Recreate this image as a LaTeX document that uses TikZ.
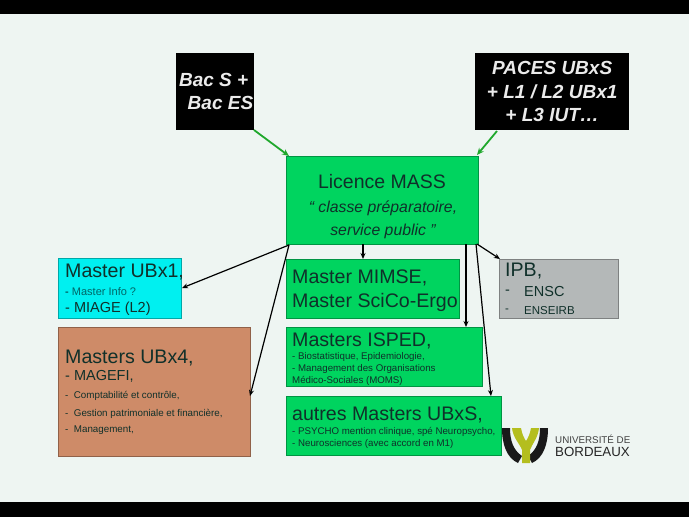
\documentclass[tikz,border=0pt]{standalone}
\usepackage{fontspec}
\setmainfont{Liberation Sans}
\usetikzlibrary{arrows.meta}
\definecolor{bg}{HTML}{EEF5F2}
\definecolor{grn}{HTML}{00D45F}
\definecolor{cyanb}{HTML}{00F0F0}
\definecolor{brownb}{HTML}{CE8B68}
\definecolor{grayb}{HTML}{B4B8B8}
\definecolor{arrowgreen}{HTML}{1FA82C}
\definecolor{logoy}{HTML}{B4BE1E}
\definecolor{txt}{HTML}{10302A}
\tikzset{
 x=1pt,y=-1pt,
 box/.style={draw=#1!70!black,line width=.7pt,inner sep=0,anchor=north west},
 blk/.style={fill=black,inner sep=0,anchor=north west,text=white!92!black,align=center,font=\fontsize{19}{23.5}\selectfont\itshape\bfseries},
 gbox/.style={box=grn,fill=grn},
 arr/.style={-{Stealth[length=6pt,width=5pt]},line width=1.2pt,black},
 garr/.style={-{Stealth[length=7pt,width=6pt]},line width=1.8pt,arrowgreen},
 lab/.style={anchor=north west,inner sep=0,align=left,text=txt},
 labw/.style={anchor=west,inner sep=0,text=txt},
}
\newcommand{\szA}{\fontsize{19.6}{21}\selectfont}
\newcommand{\szB}{\fontsize{9.8}{11.5}\selectfont}
\newcommand{\szC}{\fontsize{14.5}{15}\selectfont}
\begin{document}
\begin{tikzpicture}
\useasboundingbox (0,0) rectangle (689,517);
\fill[bg] (0,0) rectangle (689,517);
\fill[black] (0,0) rectangle (689,14);
\fill[black] (0,502) rectangle (689,517);
% boxes
\node[blk,minimum width=78pt,minimum height=77pt] (bac) at (176,53) {\hspace*{-3pt}Bac S +\\\ \ Bac ES};
\node[blk,minimum width=154pt,minimum height=77pt] (paces) at (475,53) {PACES UBxS\\+ L1 / L2 UBx1\\+ L3 IUT…};
\node[gbox,minimum width=192pt,minimum height=88pt,align=center] (lic) at (286,156) {};
\node[inner sep=0,text=txt,font=\fontsize{19.5}{20}\selectfont] (lict) at (382,182) {Licence MASS};
\node[inner sep=0,text=txt,font=\fontsize{15.8}{16}\selectfont\itshape] (lics1) at (383,208) {“ classe préparatoire,};
\node[inner sep=0,text=txt,font=\fontsize{15.8}{16}\selectfont\itshape] (lics2) at (383,231) {service public ”};
\node[box=cyanb,fill=cyanb,minimum width=123pt,minimum height=60pt] (ub1) at (58,258) {};
\node[box=brownb,fill=brownb,minimum width=192pt,minimum height=129pt] (ub4) at (58,327) {};
\node[gbox,minimum width=173pt,minimum height=59pt] (mimse) at (286,259) {};
\node[gbox,minimum width=196pt,minimum height=59pt] (isped) at (286,327) {};
\node[gbox,minimum width=215pt,minimum height=59pt] (autres) at (286,396) {};
\node[box=grayb,fill=grayb,minimum width=119pt,minimum height=59pt] (ipb) at (499,259) {};
% texts
\node[lab,font=\szA] (t1) at (65,264) {Master UBx1,};
\node[lab,font=\fontsize{11}{12}\selectfont,text=teal!80!black] (t1a) at (65,287) {\textbf{-}\ Master Info ?};
\node[lab,font=\szC] (t1b) at (65,301.5) {- MIAGE (L2)};
\node[lab,font=\szA] (t4) at (65,350) {Masters UBx4,};
\node[lab,font=\szC] (t4a) at (65,370) {- MAGEFI,};
\node[lab,font=\szB] (t4b) at (65,391) {-\ \ Comptabilité et contrôle,};
\node[lab,font=\szB] (t4c) at (65,409) {-\ \ Gestion patrimoniale et financière,};
\node[lab,font=\szB] (t4d) at (65,426) {-\ \ Management,};
\node[lab,font=\fontsize{19.6}{24}\selectfont] (tm) at (292,270) {Master MIMSE,\\Master SciCo-Ergo};
\node[lab,font=\szA] (ti) at (292,333) {Masters ISPED,};
\node[lab,font=\fontsize{9.7}{12}\selectfont] (ti2) at (292,352.5) {- Biostatistique, Epidemiologie,\\- Management des Organisations\\Médico-Sociales (MOMS)};
\node[lab,font=\szA] (ta) at (292,407) {autres Masters UBxS,};
\node[lab,font=\fontsize{9.7}{12}\selectfont] (ta2) at (292,427) {- PSYCHO mention clinique, spé Neuropsycho,\\- Neurosciences (avec accord en M1)};
\node[lab,font=\szA] (tp) at (505,263) {IPB,};
\node[labw,font=\szC] (tp1) at (505,292) {-};
\node[labw,font=\szC] (tp1b) at (524,292) {ENSC};
\node[labw,font=\fontsize{11.5}{12}\selectfont] (tp2) at (505,311) {-};
\node[labw,font=\fontsize{11.5}{12}\selectfont] (tp2b) at (524,311) {ENSEIRB};
% connectors
\coordinate (bacS) at (254,130); \coordinate (licA) at (289,156);
\coordinate (pacS) at (497,131); \coordinate (licB) at (477,155);
\draw[garr] (bacS) -- (licA);
\draw[garr] (pacS) -- (licB);
\coordinate (o1) at (289,245); \coordinate (e1) at (182,288);
\coordinate (e2) at (250,396);
\coordinate (o3) at (363,244); \coordinate (e3) at (363,259);
\coordinate (o4) at (466,244); \coordinate (e4) at (466,327);
\coordinate (o5) at (476,244); \coordinate (e5) at (491,396);
\coordinate (o6) at (477,244); \coordinate (e6) at (500,259);
\draw[arr] (o1) -- (e1);
\draw[arr] (o1) -- (e2);
\draw[arr] (o3) -- (e3);
\draw[arr] (o4) -- (e4);
\draw[arr] (o5) -- (e5);
\draw[arr] (o6) -- (e6);
% logo
\fill[black!90] (502,428) .. controls (502,445) and (507,458) .. (518,463) -- (522,456) .. controls (513,450) and (510,440) .. (510,428) -- cycle;
\fill[black!90] (548,428) .. controls (548,445) and (543,458) .. (532,463) -- (528,456) .. controls (537,450) and (540,440) .. (540,428) -- cycle;
\fill[logoy] (512,428) -- (521,428) .. controls (522,434) and (524,438) .. (526,441) .. controls (528,438) and (530,434) .. (531,428) -- (539,428) .. controls (538,438) and (532,444) .. (530,450) -- (530,463) -- (522,463) -- (522,450) .. controls (520,444) and (513,438) .. (512,428) -- cycle;
\node[inner sep=0,anchor=west,text=black!75,font=\fontsize{9.8}{10}\selectfont] (lg1) at (555,439) {UNIVERSITÉ DE};
\node[inner sep=0,anchor=west,text=black!85,font=\fontsize{13.3}{14}\selectfont] (lg2) at (555,452) {BORDEAUX};
\end{tikzpicture}
\end{document}
